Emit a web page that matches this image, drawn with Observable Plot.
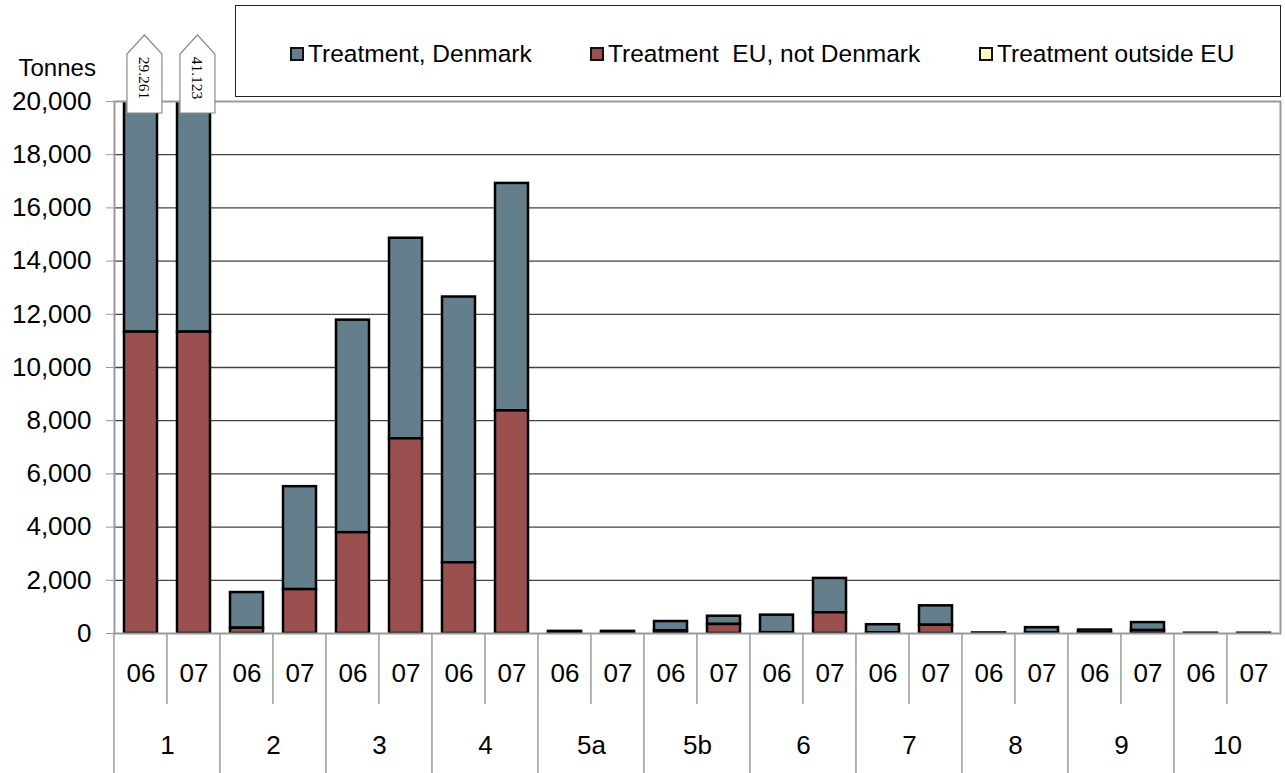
<!DOCTYPE html>
<html>
<head>
<meta charset="utf-8">
<script src="https://cdn.jsdelivr.net/npm/d3@7"></script>
<script src="https://cdn.jsdelivr.net/npm/@observablehq/plot@0.6"></script>
<style>
  body { margin: 0; background: #fff; font-family: "Liberation Sans", Arial, sans-serif; }
  #wrap { position: relative; width: 1285px; height: 773px; overflow: hidden; }
  #legend { position: absolute; left: 235px; top: 5px; width: 1046px; height: 92px; border: 1.5px solid #222; box-sizing: border-box; background: #fff; }
  .item { position: absolute; top: 3px; height: 89px; display: flex; align-items: center; font-size: 24.5px; color: #000; white-space: pre; }
  .sw { width: 10px; height: 10px; border: 2px solid #111; margin-right: 4px; }
</style>
</head>
<body>
<div id="wrap"><div id="chart"></div><div id="legend"></div></div>
<script>
// ---- data ----
const groups = ["1", "2", "3", "4", "5a", "5b", "6", "7", "8", "9", "10"];
const years = ["06", "07"];
const seriesNames = ["Treatment, Denmark", "Treatment  EU, not Denmark", "Treatment outside EU"];
// values per group and year (06, 07), tonnes
const treatmentDenmark      = [17931, 29793, 1340, 3870, 7990, 7540, 9990, 8550, 60, 60, 350, 310, 660, 1290, 310, 730, 20, 200, 110, 300, 10, 10];
const treatmentEUnotDenmark = [11330, 11330, 200, 1650, 3790, 7320, 2660, 8370, 20, 20, 100, 340, 30, 780, 20, 310, 0, 20, 20, 110, 0, 0];
const treatmentOutsideEU    = [0, 0, 0, 0, 0, 0, 0, 0, 0, 0, 0, 0, 0, 0, 0, 0, 0, 0, 0, 0, 0, 0];
const yTicks = [0, 2000, 4000, 6000, 8000, 10000, 12000, 14000, 16000, 18000, 20000];
const yMax = 20000;

const seriesColors = ["#647f8b", "#9b5050", "#ffffc4"];

// ---- build table ----
const seriesValues = [treatmentDenmark, treatmentEUnotDenmark, treatmentOutsideEU];
const cells = [];
groups.forEach((g, gi) => years.forEach((yr, yi) => cells.push({ key: g + "|" + yr, group: g, year: yr, i: gi * years.length + yi })));
const keys = cells.map(c => c.key);
const rows = [];
cells.forEach(c => seriesNames.forEach((s, si) => rows.push({ key: c.key, series: s, value: seriesValues[si][c.i] })));
const totals = cells.map(c => ({ key: c.key, total: seriesValues.reduce((a, arr) => a + arr[c.i], 0) }));
const dotFormat = d3.formatLocale({ decimal: ",", thousands: ".", grouping: [3], currency: ["", ""] }).format(",");

const padIn = 0.38, padOut = 0.19;

function geometry(scales, dimensions) {
  const step = (dimensions.width - dimensions.marginLeft - dimensions.marginRight) / keys.length;
  const bw = step * (1 - padIn);
  const center = k => scales.x(k) + bw / 2;
  return { step, center, base: dimensions.height - dimensions.marginBottom };
}

// separators below the axis
function separators(index, scales, values, dimensions) {
  const { step, center, base } = geometry(scales, dimensions);
  const g = d3.create("svg:g").attr("stroke", "#9a9a9a").attr("stroke-width", 1.5);
  cells.forEach(c => {
    const xl = center(c.key) - step / 2;
    const isFirst = c.year === years[0];
    g.append("line").attr("x1", xl).attr("x2", xl).attr("y1", base).attr("y2", isFirst ? dimensions.height : base + 71);
  });
  return g.node();
}

// callouts for clipped bars
function callouts(index, scales, values, dimensions) {
  const { center } = geometry(scales, dimensions);
  const yTop = scales.y(yMax);
  const g = d3.create("svg:g");
  totals.filter(t => t.total > yMax).forEach(t => {
    const cx = center(t.key) + 4, hw = 17.5;
    g.append("path")
      .attr("d", `M${cx - hw},${yTop + 12}V${yTop - 47}L${cx},${yTop - 66}L${cx + hw},${yTop - 47}V${yTop + 12}Z`)
      .attr("fill", "#fff").attr("stroke", "#8a8a8a").attr("stroke-width", 1.2);
    g.append("text")
      .attr("transform", `translate(${cx},${yTop - 23}) rotate(90)`)
      .attr("text-anchor", "middle").attr("dy", "0.35em")
      .attr("font-family", "Liberation Serif, serif").attr("font-size", 15.5).attr("fill", "#000")
      .text(dotFormat(t.total));
  });
  return g.node();
}

const chart = Plot.plot({
  width: 1285, height: 773,
  marginLeft: 114, marginRight: 5, marginTop: 101, marginBottom: 140,
  style: { fontFamily: "Liberation Sans, Arial, sans-serif", color: "#000", background: "#fff", overflow: "visible" },
  x: { domain: keys, paddingInner: padIn, paddingOuter: padOut, axis: null },
  y: { domain: [0, yMax], axis: null },
  color: { domain: seriesNames, range: seriesColors },
  marks: [
    Plot.gridY(yTicks.filter(d => d > 0 && d < yMax), { stroke: "#444", strokeOpacity: 1, strokeWidth: 1.3 }),
    Plot.barY(rows.filter(d => d.value > 0), {
      x: "key", y: "value", fill: "series",
      order: [seriesNames[1], seriesNames[0], seriesNames[2]],
      stroke: "#000", strokeWidth: 2.5, clip: true
    }),
    Plot.frame({ stroke: "#9a9a9a", strokeWidth: 2 }),
    Plot.axisY({ ticks: yTicks, tickFormat: d3.format(","), tickSize: 8, tickPadding: 15, fontSize: 26, stroke: "#9a9a9a", fill: "#000", label: null }),
    Plot.text(["Tonnes"], { frameAnchor: "top-left", lineAnchor: "middle", dx: -96, dy: -33, textAnchor: "start", fontSize: 24, fill: "#000" }),
    Plot.text(cells, { x: "key", text: "year", frameAnchor: "bottom", lineAnchor: "middle", dy: 40, fontSize: 26, fill: "#000" }),
    Plot.text(cells.filter(c => c.year === years[0]), { x: "key", text: "group", frameAnchor: "bottom", lineAnchor: "middle", dy: 112, dx: 26.5, fontSize: 26, fill: "#000" }),
    separators,
    callouts
  ]
});
document.getElementById("chart").appendChild(chart);

// legend
const legend = document.getElementById("legend");
const legendLefts = [54, 354, 743];
seriesNames.forEach((s, i) => {
  const it = document.createElement("div");
  it.className = "item";
  it.style.left = legendLefts[i] + "px";
  it.innerHTML = `<span class="sw" style="background:${seriesColors[i]}"></span><span></span>`;
  it.lastChild.textContent = s;
  legend.appendChild(it);
});
</script>
</body>
</html>
